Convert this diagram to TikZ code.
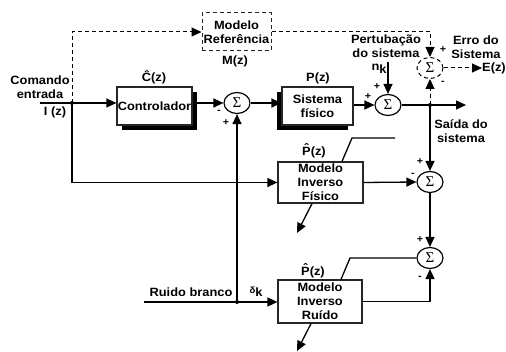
\documentclass[tikz,border=0pt]{standalone}
\usepackage{fontspec}
\setmainfont{Liberation Sans}[FakeStretch=1.07]
\newfontfamily\sigfont{Liberation Serif}
\usetikzlibrary{arrows.meta,shapes.geometric,shadows}
\newcommand\hatP{\ooalign{P\cr\hidewidth\raisebox{3.5pt}{\char"02C6}\hidewidth\cr}}
\tikzset{
  lbl/.style={inner sep=0pt, font=\fontsize{12}{14}\selectfont\bfseries, align=center},
  blk/.style={lbl, draw=black!85, line width=1.2pt, fill=white},
  sig/.style={ellipse, draw, line width=1.2pt, minimum width=26pt, minimum height=21pt, inner sep=0pt, fill=white, font=\sigfont\fontsize{15}{15}\selectfont},
  wire/.style={line width=1.3pt},
  arr/.style={wire, -{Triangle[length=10pt,width=9pt]}},
  dsh/.style={line width=1pt, dash pattern=on 4pt off 3pt},
  sgn/.style={inner sep=0pt, font=\fontsize{10}{10}\selectfont\bfseries},
  shd/.style={drop shadow={shadow xshift=#1, shadow yshift=-5pt, opacity=1, fill=black}}
}
\begin{document}
\begin{tikzpicture}[x=1pt,y=-1pt]
\useasboundingbox (0,0) rectangle (506,352);
% blocks
\node[blk, dsh, minimum width=69pt, minimum height=38pt] (ref) at (236.5,32) {Modelo\\Referência};
\node[blk, minimum width=75pt, minimum height=38pt, shd=5pt] (ctrl) at (154.5,106) {Controlador};
\node[blk, minimum width=71pt, minimum height=38pt, shd=-5pt] (sis) at (317.5,106) {Sistema\\físico};
\node[blk, minimum width=85pt, minimum height=41pt] (mif) at (320.5,182.5) {Modelo\\Inverso\\Físico};
\node[blk, minimum width=84pt, minimum height=43pt] (mir) at (320,301.5) {Modelo\\Inverso\\Ruído};
% summing junctions
\node[sig] (s1) at (237,103) {Σ};
\node[sig] (s2) at (388,105) {Σ};
\node[sig, dsh] (s3) at (430,68) {Σ};
\node[sig] (s4) at (430,182) {Σ};
\node[sig] (s5) at (430,258) {Σ};
% junction points and free ends
\coordinate (in) at (40,103);
\coordinate (j1) at (72,103);
\coordinate (j2) at (430,105);
\coordinate (j3) at (237,302);
\coordinate (rb) at (144,302);
\coordinate (out) at (466,105);
\coordinate (ez) at (482,68);
\coordinate (nk) at (388,62);
\coordinate (a1) at (297,233);
\coordinate (a2) at (297,351);
\coordinate (t1) at (352,138);
\coordinate (t1e) at (395,138);
\coordinate (t2) at (350,258);
% connectors
\draw[wire] (in) -- (j1);
\draw[arr] (j1) -- (ctrl.west |- j1);
\draw[arr] (ctrl.east |- s1) -- (s1.west);
\draw[arr] (s1.east) -- (sis.west |- s1);
\draw[arr] (sis.east |- s2) -- (s2.west);
\draw[arr] (nk) -- (s2.north);
\draw[arr] (s2.east) -- (out);
\draw[arr, dsh] (j2) -- (s3.south);
\draw[arr] (j2) -- (s4.north);
\draw[arr, dsh] (j1) |- (ref.west);
\draw[arr, dsh] (ref.east) -| (s3.north);
\draw[arr, dsh] (s3.east) -- (ez);
\draw[arr] (j1) |- (mif.west);
\draw[arr] (mif.east) -- (s4.west);
\draw[arr] (s4.south) -- (s5.north);
\draw[wire] (rb) -- (j3);
\draw[arr] (j3) -- (mir.west |- j3);
\draw[arr] (j3) -- (s1.south);
\draw[arr] (mir.east) -| (s5.south);
\draw[wire] ([xshift=21pt]mir.north) -- (t2) -- (s5.west);
\draw[wire] ([xshift=21.5pt]mif.north) -- (t1) -- (t1e);
\draw[arr] ([xshift=-8.5pt]mif.south) -- (a1);
\draw[arr] ([xshift=-9pt]mir.south) -- (a2);
% junction dots
\fill (j1) circle (2pt);
\fill (j2) circle (2pt);
\fill (j3) circle (2pt);
% labels
\node[lbl] (cmd) at (40,87.5) {Comando\\entrada};
\node[lbl] (iz) at (55,112) {I (z)};
\node[lbl, anchor=base] (cz) at (154,81.5) {Ĉ(z)};
\node[lbl] (pz) at (318,78) {P(z)};
\node[lbl] (mz) at (235,61) {M(z)};
\node[lbl] (pert) at (386,46) {Pertubação\\do sistema};
\node[lbl, anchor=base] (nkl) at (379,71) {n\raisebox{-3pt}{k}};
\node[lbl] (erro) at (476,47) {Erro do\\Sistema};
\node[lbl] (ezl) at (494,68) {E(z)};
\node[lbl] (said) at (461,131) {Saída do\\sistema};
\node[lbl, anchor=base] (p1) at (314,156) {\hatP(z)};
\node[lbl, anchor=base] (p2) at (313,276) {\hatP(z)};
\node[lbl] (rbl) at (191,292) {Ruido branco};
\node[lbl, anchor=base] (dk) at (256,294) {{\fontsize{9}{9}\selectfont δ}\raisebox{-3pt}{k}};
% signs
\node[sgn] (m1) at (219,112) {-};
\node[sgn] (p1s) at (226,123) {+};
\node[sgn] (p2a) at (368,97) {+};
\node[sgn] (p2b) at (377,87) {+};
\node[sgn] (p3) at (443,50) {+};
\node[sgn] (m3) at (443,83) {-};
\node[sgn] (p4) at (420,162) {+};
\node[sgn] (m4) at (413,175) {-};
\node[sgn] (p5) at (420,240) {+};
\node[sgn] (m5) at (420,278) {-};
\end{tikzpicture}
\end{document}
